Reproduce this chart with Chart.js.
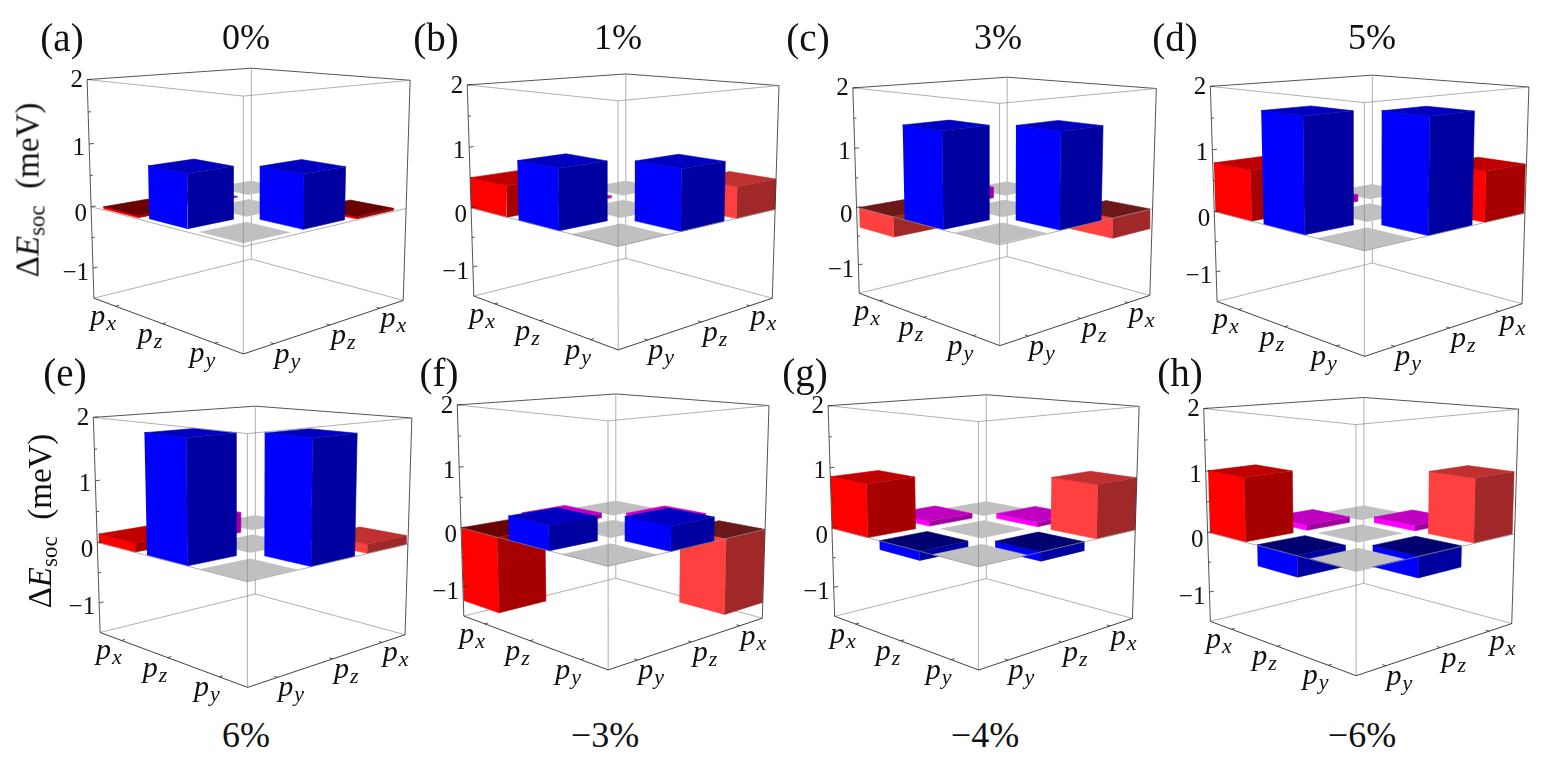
<!DOCTYPE html>
<html>
<head>
<meta charset="utf-8">
<title>SOC matrix elements vs strain</title>
<script src="https://cdn.jsdelivr.net/npm/chart.js@4"></script>
<style>
  html, body { margin: 0; background: #fff; }
  #page { position: relative; width: 1547px; height: 768px; overflow: hidden; font-family: "Liberation Serif", serif; color: #111; }
  canvas { position: absolute; }
  .lbl { position: absolute; transform: translate(-50%, -50%); white-space: nowrap; font-size: 36px; line-height: 1; }
  .tag { font-size: 39px; }
  .ylab { position: absolute; transform: translate(-50%, -50%) rotate(-90deg); white-space: nowrap; font-size: 33px; line-height: 1; }
  .ylab sub { font-size: 23px; vertical-align: -6px; line-height: 0; }
</style>
</head>
<body>
<div id="page"></div>
<script>
// one entry per panel, (a) to (h)
const panelTags = ['(a)', '(b)', '(c)', '(d)', '(e)', '(f)', '(g)', '(h)'];
const strains = ['0%', '1%', '3%', '5%', '6%', '\u22123%', '\u22124%', '\u22126%'];

// meV
const pxPy = [-0.03, 0.5, -0.34, 0.79, 0.14, -1.23, 0.855, 1.01];   // red
const pyPz = [0.8, 0.93, 1.5, 1.72, 1.85, 0.38, -0.14, -0.33];      // blue
const pzPx = [0.01, 0.03, 0.19, 0.11, 0.34, 0.08, 0.08, 0.09];      // magenta

const orbitals = ['p_y', 'p_z', 'p_x'];
const zTickLabels = [2, 1, 0, -1];
const zTicks = [2, 1.5, 1, 0.5, 0, -0.5, -1];

// layout of each panel on the page
const panelCx = [248, 622.2, 1003.7, 1369.2, 251.5, 612.2, 982.5, 1360.8];
const panelCy = [192, 193.5, 193.9, 197.3, 528, 513.2, 514.3, 518.4];
const panelScale = [1, 0.966, 0.94, 0.985, 0.985, 0.966, 0.962, 0.974];
// how far the bar grid fills the box floor
const gridSpread = [1, 1.084, 1.066, 1.077, 1.073, 1.082, 1.083, 1.068];
const tagPos = [[62, 37], [436, 37], [808, 37], [1175, 37], [65, 372], [439, 372], [805, 372], [1180, 372]];
const strainPos = [[246, 37], [618, 37], [998, 37], [1372, 37], [246, 735], [605, 735], [985, 735], [1362, 735]];
const ylabPos = [[28, 190], [40, 521]];
// tick labels sit a little under their ticks, same order as zTickLabels
const zLabelNudge = [1, 4, 8, 5];

// red shade differs a bit from panel to panel
const redLeft = ['pure', 'pure', 'light', 'pure', 'pure', 'pure', 'pure', 'pure'];
const redRight = ['pure', 'light', 'light', 'pure', 'light', 'light', 'light', 'light'];
const faceColors = {
  pure: { left: '#ff0000', right: '#a60000', top: '#c00000', under: '#6a0000' },
  light: { left: '#ff4040', right: '#a02828', top: '#c03030', under: '#6a1818' },
  blue: { left: '#0000ff', right: '#0000a0', top: '#0000c0', under: '#000070' },
  magenta: { left: '#ff00ff', right: '#a000a0', top: '#c000c0', under: '#700070' }
};

// camera, fitted to the cube
const AZ = 43.6 * Math.PI / 180;
const EL = 11.2 * Math.PI / 180;
const DIST = 8.93;
const FOCAL = 998;
const HALF_W = 215;
const HALF_H = 190;
const BAR = 0.255;
const DARK = '#2a2a2a';
const GREY = '#8c8c8c';

function project(a, b, z) {
  const h = (z - 0.25) / 1.75;
  const s = b * Math.cos(AZ) - a * Math.sin(AZ);
  const t = a * Math.cos(AZ) + b * Math.sin(AZ);
  const depth = DIST + t * Math.cos(EL) - h * Math.sin(EL);
  return { x: FOCAL * s / depth, y: FOCAL * (h * Math.cos(EL) + t * Math.sin(EL)) / depth };
}

function poly(points, color) {
  return {
    data: points.map(p => project(p[0], p[1], p[2])),
    showLine: true, fill: 'shape', backgroundColor: color,
    borderColor: color, borderWidth: 0.6, pointRadius: 0, clip: false
  };
}

function line(points, color, width) {
  return {
    data: points.map(p => project(p[0], p[1], p[2])),
    showLine: true, fill: false,
    borderColor: color, borderWidth: width, pointRadius: 0, clip: false
  };
}

function barFaces(a, b, w, value, colors) {
  const a0 = a - w, a1 = a + w, b0 = b - w, b1 = b + w;
  const faces = [];
  // the cap always sits at the end nearer the top
  const capZ = Math.max(value, 0);
  const lowZ = Math.min(value, 0);
  faces.push(poly([[a1, b0, lowZ], [a0, b0, lowZ], [a0, b0, capZ], [a1, b0, capZ]], colors.left));
  faces.push(poly([[a0, b0, lowZ], [a0, b1, lowZ], [a0, b1, capZ], [a0, b0, capZ]], colors.right));
  faces.push(poly([[a0, b0, capZ], [a1, b0, capZ], [a1, b1, capZ], [a0, b1, capZ]], value < 0 ? colors.under : colors.top));
  return faces;
}

function buildDatasets(p) {
  const sets = [];
  // back of the box
  sets.push(line([[1, -1, 2], [1, 1, 2], [-1, 1, 2]], DARK, 0.8));
  sets.push(line([[1, -1, -1.5], [1, 1, -1.5], [-1, 1, -1.5]], GREY, 0.7));
  sets.push(line([[1, 1, -1.5], [1, 1, 2]], GREY, 0.7));

  // cells back to front
  const cells = [];
  orbitals.forEach((_, i) => orbitals.forEach((_, j) => cells.push([i, j])));
  cells.sort((c1, c2) => (c2[0] + c2[1]) - (c1[0] + c1[1]));
  const w = BAR * gridSpread[p];
  cells.forEach(([i, j]) => {
    const a = (-2 / 3 + i * 2 / 3) * gridSpread[p];
    const b = (-2 / 3 + j * 2 / 3) * gridSpread[p];
    if (i === j) {
      sets.push(poly([[a - w, b - w, 0], [a + w, b - w, 0], [a + w, b + w, 0], [a - w, b + w, 0]], '#c0c0c0'));
    } else if (i + j === 1) {
      sets.push(...barFaces(a, b, w, pyPz[p], faceColors.blue));
    } else if (i + j === 2) {
      sets.push(...barFaces(a, b, w, pxPy[p], faceColors[i === 2 ? redLeft[p] : redRight[p]]));
    } else {
      sets.push(...barFaces(a, b, w, pzPx[p], faceColors.magenta));
    }
  });

  // front of the box
  sets.push(line([[1, -1, 0], [-1, -1, 0], [-1, 1, 0]], GREY, 0.7));
  sets.push(line([[1, -1, 2], [-1, -1, 2], [-1, 1, 2]], GREY, 0.7));
  sets.push(line([[-1, -1, -1.5], [-1, -1, 2]], GREY, 0.7));
  sets.push(line([[1, -1, -1.5], [-1, -1, -1.5], [-1, 1, -1.5]], DARK, 0.9));
  sets.push(line([[1, -1, -1.5], [1, -1, 2]], DARK, 0.8));
  sets.push(line([[-1, 1, -1.5], [-1, 1, 2]], DARK, 0.8));

  // ticks
  zTicks.forEach(z => {
    const len = Number.isInteger(z) ? 0.05 : 0.03;
    sets.push(line([[1, -1, z], [1, -1 + len, z]], DARK, 0.8));
  });
  orbitals.forEach((_, i) => {
    const c = -2 / 3 + i * 2 / 3;
    sets.push(line([[c, -1, -1.5], [c, -0.96, -1.5]], DARK, 0.8));
    sets.push(line([[-1, c, -1.5], [-0.96, c, -1.5]], DARK, 0.8));
  });
  // chart.js paints the first dataset last
  return sets.reverse();
}

function drawOrbital(ctx, name, x, y) {
  const parts = name.split('_');
  ctx.textBaseline = 'alphabetic';
  ctx.textAlign = 'left';
  ctx.font = 'italic 30px "Liberation Serif"';
  const w1 = ctx.measureText(parts[0]).width;
  ctx.font = 'italic 22px "Liberation Serif"';
  const w2 = ctx.measureText(parts[1]).width;
  const left = x - (w1 + w2) / 2;
  ctx.font = 'italic 30px "Liberation Serif"';
  ctx.fillText(parts[0], left, y + 5);
  ctx.font = 'italic 22px "Liberation Serif"';
  ctx.fillText(parts[1], left + w1 + 1, y + 10);
}

const boxLabels = {
  id: 'boxLabels',
  afterDraw(chart) {
    const ctx = chart.ctx;
    const sx = chart.scales.x, sy = chart.scales.y;
    const px = p => ({ x: sx.getPixelForValue(p.x), y: sy.getPixelForValue(p.y) });
    ctx.save();
    ctx.fillStyle = '#111';
    ctx.font = '25px "Liberation Serif"';
    ctx.textAlign = 'right';
    ctx.textBaseline = 'middle';
    zTickLabels.forEach((z, i) => {
      const q = px(project(1, -1, z));
      ctx.fillText(z < 0 ? '\u2212' + Math.abs(z) : String(z), q.x - 4, q.y + zLabelNudge[i]);
    });
    orbitals.forEach((name, i) => {
      const c = -2 / 3 + i * 2 / 3;
      const l = px(project(c, -1, -1.5));
      const r = px(project(-1, c, -1.5));
      drawOrbital(ctx, name, l.x - 13, l.y + 14);
      drawOrbital(ctx, name, r.x + 13, r.y + 14);
    });
    ctx.restore();
  }
};

const page = document.getElementById('page');

panelTags.forEach((tag, p) => {
  const sc = panelScale[p];
  const canvas = document.createElement('canvas');
  const w = Math.round(2 * HALF_W * sc);
  const h = Math.round(2 * HALF_H * sc);
  canvas.width = w;
  canvas.height = h;
  canvas.style.left = Math.round(panelCx[p] - w / 2) + 'px';
  canvas.style.top = Math.round(panelCy[p] - h / 2) + 'px';
  canvas.style.width = w + 'px';
  canvas.style.height = h + 'px';
  page.appendChild(canvas);

  new Chart(canvas, {
    type: 'scatter',
    data: { datasets: buildDatasets(p) },
    options: {
      responsive: false,
      animation: false,
      layout: { padding: 0 },
      scales: {
        x: { type: 'linear', display: false, min: -HALF_W, max: HALF_W },
        y: { type: 'linear', display: false, min: -HALF_H, max: HALF_H }
      },
      plugins: { legend: { display: false }, tooltip: { enabled: false } }
    },
    plugins: [boxLabels]
  });

  const tagEl = document.createElement('div');
  tagEl.className = 'lbl tag';
  tagEl.textContent = tag;
  tagEl.style.left = tagPos[p][0] + 'px';
  tagEl.style.top = tagPos[p][1] + 'px';
  page.appendChild(tagEl);

  const strainEl = document.createElement('div');
  strainEl.className = 'lbl';
  strainEl.textContent = strains[p];
  strainEl.style.left = strainPos[p][0] + 'px';
  strainEl.style.top = strainPos[p][1] + 'px';
  page.appendChild(strainEl);
});

ylabPos.forEach(pos => {
  const el = document.createElement('div');
  el.className = 'ylab';
  el.innerHTML = '\u0394<i>E</i><sub>soc</sub>&nbsp;&nbsp;(meV)';
  el.style.left = pos[0] + 'px';
  el.style.top = pos[1] + 'px';
  page.appendChild(el);
});
</script>
</body>
</html>
